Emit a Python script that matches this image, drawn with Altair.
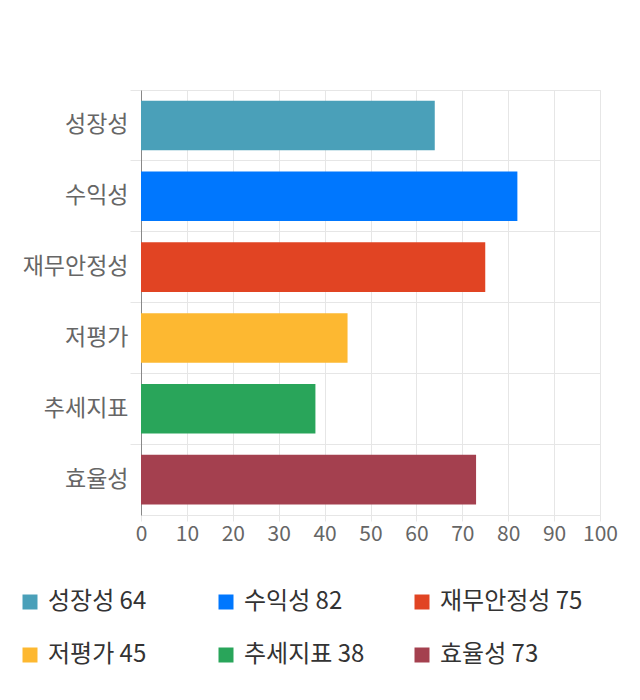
import altair as alt
import pandas as pd

categories = ["성장성", "수익성", "재무안정성", "저평가", "추세지표", "효율성"]
values = [64, 82, 75, 45, 38, 73]
colors = ["#4aa0b9", "#0077fe", "#e14423", "#fdb831", "#29a55a", "#a4404f"]
x_ticks = [0, 10, 20, 30, 40, 50, 60, 70, 80, 90, 100]

labels = [f"{c} {v}" for c, v in zip(categories, values)]
df = pd.DataFrame({"category": categories, "value": values, "label": labels})

FONT = "Noto Sans CJK KR"
GRID = "#e6e6e6"

chart = alt.Chart(df).mark_bar(height={"band": 0.7}).encode(
    y=alt.Y("category:N", sort=categories, title=None,
            scale=alt.Scale(paddingInner=0, paddingOuter=0),
            axis=alt.Axis(bandPosition=0, grid=True, gridColor=GRID,
                          tickColor=GRID, tickSize=11, domainColor="#888888",
                          labelFont=FONT, labelFontSize=23, labelColor="#666666",
                          labelPadding=2)),
    x=alt.X("value:Q", title=None,
            scale=alt.Scale(domain=[0, 100], nice=False),
            axis=alt.Axis(values=x_ticks, grid=True, gridColor=GRID,
                          tickColor=GRID, tickSize=6, domainColor=GRID,
                          labelFont=FONT, labelFontSize=21, labelColor="#666666",
                          labelPadding=2, labelFlush=False)),
    color=alt.Color("label:N", sort=labels,
                    scale=alt.Scale(domain=labels, range=colors),
                    legend=alt.Legend(orient="none", legendX=-123, legendY=500,
                                      direction="horizontal", columns=3,
                                      title=None, symbolType="square",
                                      symbolSize=225, symbolStrokeWidth=0,
                                      symbolOpacity=1,
                                      labelFont=FONT, labelFontSize=24,
                                      labelColor="#333333", labelOffset=6,
                                      gridAlign="all", columnPadding=23,
                                      rowPadding=29, labelLimit=300)),
).properties(
    width=459, height=425,
    autosize=alt.AutoSizeParams(type="none"),
    padding={"left": 133, "top": 82, "right": 32, "bottom": 177},
).configure_view(stroke=GRID)

chart.save("out.html", embed_options={"renderer": "svg", "actions": False})
